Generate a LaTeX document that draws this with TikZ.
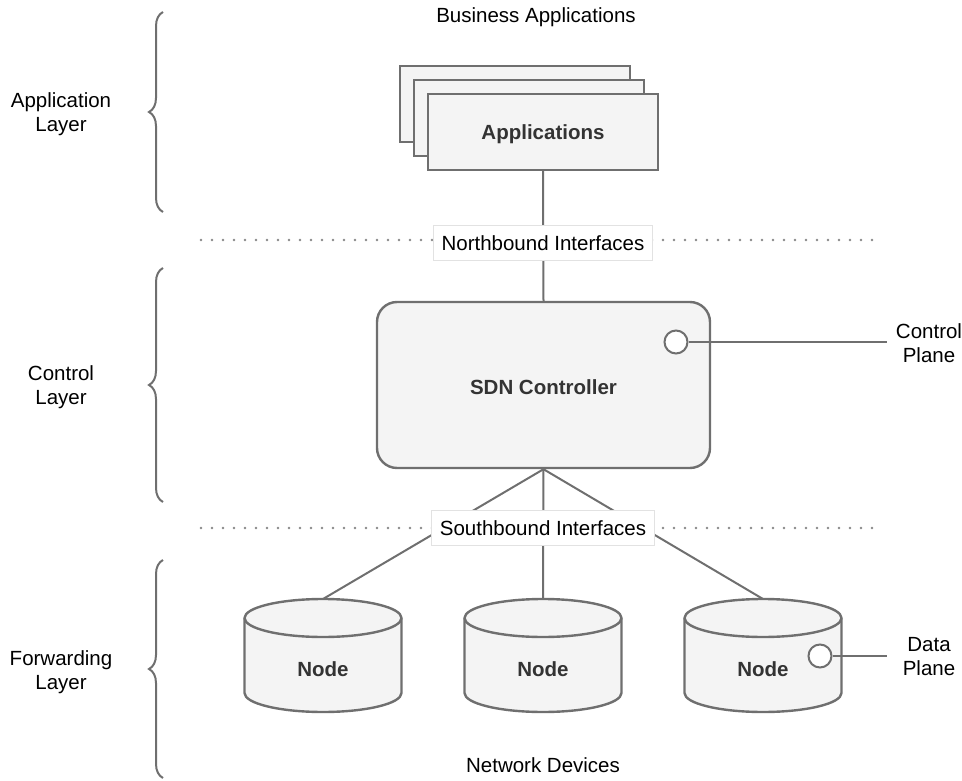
\documentclass[tikz,border=0pt]{standalone}
\usepackage{fontspec}
\setmainfont{Liberation Sans}
\usetikzlibrary{decorations.pathreplacing}
\definecolor{linegray}{HTML}{6F6F6F}
\definecolor{boxfill}{HTML}{F4F4F4}
\definecolor{labelgray}{HTML}{E2E2E2}
\definecolor{darktext}{HTML}{333333}
\definecolor{dotgray}{HTML}{888888}
\begin{document}
\begin{tikzpicture}[x=1pt,y=1pt,
    font=\fontsize{20.5}{24}\selectfont,
    shapebox/.style={draw=linegray,line width=2.4pt,fill=boxfill},
    conn/.style={draw=linegray,line width=2pt},
    iface/.style={draw=labelgray,line width=0.8pt,fill=white,inner xsep=8pt,minimum height=35pt},
    dotline/.style={dotgray,line width=2.8pt,line cap=round,dash pattern=on 0pt off 11pt},
    layerbrace/.style={draw=linegray,line width=2pt,decorate,decoration={brace,amplitude=14pt}},
    port/.style={circle,draw=linegray,line width=2pt,fill=white,minimum size=23pt,inner sep=0pt},
    boldtext/.style={text=darktext,font=\fontsize{20.5}{24}\selectfont\bfseries},
    twoline/.style={align=center}]
    \useasboundingbox (0,0) rectangle (962,-781);

    % layers on the left
    \draw[layerbrace] (163,-212) -- (163,-12);
    \draw[layerbrace] (163,-502) -- (163,-268);
    \draw[layerbrace] (163,-778) -- (163,-560);
    \node[twoline] (applayer) at (61,-114) {Application\\Layer};
    \node[twoline] (ctrllayer) at (61,-387) {Control\\Layer};
    \node[twoline] (fwdlayer) at (61,-672) {Forwarding\\Layer};

    % interface lines
    \draw[dotline] (201,-240) -- (880,-240);
    \draw[dotline] (201,-528) -- (882,-528);

    % applications
    \node (business) at (536,-17) {Business Applications};
    \node[shapebox,minimum width=230pt,minimum height=76pt] (app3) at (515,-104) {};
    \node[shapebox,minimum width=230pt,minimum height=76pt] (app2) at (529,-118) {};
    \node[shapebox,minimum width=230pt,minimum height=76pt,boldtext] (app) at (543,-132) {};
    \node[boldtext] (apptext) at (543,-134) {Applications};

    % controller
    \node[shapebox,rounded corners=20pt,minimum width=333pt,minimum height=166pt]
        (ctrl) at (543.5,-385) {};
    \node[boldtext] (ctrltext) at (543.5,-387) {SDN Controller};
    \node[port] (cport) at (676,-342) {};
    \coordinate (cend) at (887,-342);
    \node[twoline] (cplane) at (929,-343) {Control\\Plane};
    \draw[conn] (cport.east) -- (cend);

    % forwarding devices
    \foreach \cx/\name in {323/nodeA,543/nodeB,763/nodeC}{
        \filldraw[shapebox] (\cx-78.5,-618) -- (\cx-78.5,-693)
            arc[start angle=180,end angle=360,x radius=78.5,y radius=19]
            -- (\cx+78.5,-618)
            arc[start angle=0,end angle=180,x radius=78.5,y radius=19] -- cycle;
        \draw[shapebox,fill=none] (\cx-78.5,-618)
            arc[start angle=180,end angle=360,x radius=78.5,y radius=19];
        \node[boldtext] (\name) at (\cx,-669) {Node};
        \coordinate (\name-top) at (\cx,-599);
    }
    \node[port] (dport) at (820,-656) {};
    \coordinate (dend) at (887,-656);
    \node[twoline] (dplane) at (929,-657) {Data\\Plane};
    \draw[conn] (dport.east) -- (dend);
    \node (devices) at (543,-765) {Network Devices};

    % connectors
    \draw[conn] (app.south) -- (ctrl.north);
    \draw[conn] (ctrl.south) -- (nodeA-top);
    \draw[conn] (ctrl.south) -- (nodeB-top);
    \draw[conn] (ctrl.south) -- (nodeC-top);

    % interface labels
    \node[iface] (north) at (543,-243) {Northbound Interfaces};
    \node[iface] (south) at (543,-528) {Southbound Interfaces};
\end{tikzpicture}
\end{document}
